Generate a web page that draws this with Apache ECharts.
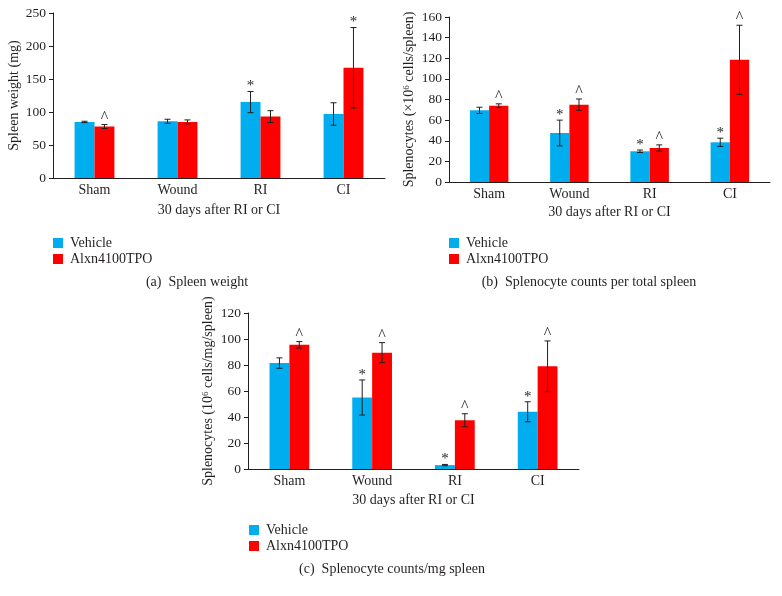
<!DOCTYPE html>
<html><head><meta charset="utf-8">
<script src="https://cdn.jsdelivr.net/npm/echarts@6/dist/echarts.min.js"></script>
<style>html,body{margin:0;padding:0;background:#fff}#c{width:782px;height:596px}</style>
</head><body><div id="c"></div>
<script>
// ---- data ----
const categories = ['Sham', 'Wound', 'RI', 'CI'];
const seriesNames = ['Vehicle', 'Alxn4100TPO'];
const xAxisTitle = '30 days after RI or CI';

// (a) Spleen weight (mg)
const weightVehicle = [85, 86, 115, 97];
const weightVehicleErr = [1, 3, 16, 17];
const weightTPO = [78, 85, 93, 167];
const weightTPOErr = [3, 3, 9, 61];
const weightVehicleMark = ['', '', '*', ''];
const weightTPOMark = ['^', '', '', '*'];
const weightTicks = [0, 250, 50];

// (b) Splenocytes per total spleen (x10^6)
const totalVehicle = [69.5, 47.5, 29.8, 38.5];
const totalVehicleErr = [3, 12.5, 1.2, 4];
const totalTPO = [74, 75, 33, 118.5];
const totalTPOErr = [1.8, 5.5, 3, 33.5];
const totalVehicleMark = ['', '*', '*', '*'];
const totalTPOMark = ['^', '^', '^', '^'];
const totalTicks = [0, 160, 20];

// (c) Splenocytes per mg spleen (10^6)
const perMgVehicle = [81.5, 55, 3, 44];
const perMgVehicleErr = [4, 13.5, 0.5, 7.7];
const perMgTPO = [95.5, 89.5, 37.5, 79];
const perMgTPOErr = [2.5, 7.7, 5, 19.5];
const perMgVehicleMark = ['', '*', '*', '*'];
const perMgTPOMark = ['^', '^', '^', '^'];
const perMgTicks = [0, 120, 20];

const captions = ['(a)  Spleen weight', '(b)  Splenocyte counts per total spleen', '(c)  Splenocyte counts/mg spleen'];
const yTitles = ['Spleen weight (mg)', 'Splenocytes (×10{sup|6} cells/spleen)', 'Splenocytes (10{sup|6} cells/mg/spleen)'];

// ---- styles / layout ----
const FONT = '"Liberation Serif", "DejaVu Serif", serif';
const INK = '#231f20';
const BLUE = '#00aeef';
const RED = '#ff0000';
const BAR_FRAC = 0.24;

const panels = [
  { grid: {left: 53, top: 13, width: 332, height: 165}, ticks: weightTicks, nameGap: 25,
    v: weightVehicle, ve: weightVehicleErr, vm: weightVehicleMark,
    t: weightTPO, te: weightTPOErr, tm: weightTPOMark,
    legend: {left: 53, top: 236}, caption: [197, 282] },
  { grid: {left: 449, top: 17, width: 321, height: 165}, ticks: totalTicks, nameGap: 23,
    v: totalVehicle, ve: totalVehicleErr, vm: totalVehicleMark,
    t: totalTPO, te: totalTPOErr, tm: totalTPOMark,
    legend: {left: 449, top: 236}, caption: [589, 282] },
  { grid: {left: 248, top: 313, width: 331, height: 156}, ticks: perMgTicks, nameGap: 24,
    v: perMgVehicle, ve: perMgVehicleErr, vm: perMgVehicleMark,
    t: perMgTPO, te: perMgTPOErr, tm: perMgTPOMark,
    legend: {left: 249, top: 523}, caption: [392, 569] }
];

function errRender(markArr, side) {
  return function (params, api) {
    const i = api.value(0), m = api.value(1), e = api.value(2);
    const band = api.size([1, 0])[0];
    const off = side * band * BAR_FRAC / 2;
    const top = api.coord([i, m + e]);
    const bot = api.coord([i, m - e]);
    const x = top[0] + off;
    const cap = 3;
    const ls = {stroke: INK, lineWidth: 1};
    const children = [
      {type: 'line', shape: {x1: x, y1: top[1], x2: x, y2: bot[1]}, style: ls},
      {type: 'line', shape: {x1: x - cap, y1: top[1], x2: x + cap, y2: top[1]}, style: ls},
      {type: 'line', shape: {x1: x - cap, y1: bot[1], x2: x + cap, y2: bot[1]}, style: ls}
    ];
    const mk = markArr[params.dataIndex];
    if (mk) {
      const caret = mk === '^';
      children.push({type: 'text', style: {text: mk, x: x, y: top[1] - (caret ? 7 : 5),
        align: 'center', verticalAlign: 'middle', font: (caret ? '16px ' : '15px ') + FONT, fill: INK}});
    }
    return {type: 'group', children: children};
  };
}

const option = {
  backgroundColor: '#fff',
  animation: false,
  grid: [], xAxis: [], yAxis: [], series: [], legend: [], graphic: []
};

panels.forEach((p, k) => {
  option.grid.push(Object.assign({containLabel: false}, p.grid));
  option.xAxis.push({
    type: 'category', gridIndex: k, data: categories,
    name: xAxisTitle, nameLocation: 'middle', nameGap: p.nameGap,
    nameTextStyle: {fontFamily: FONT, fontSize: 14, color: INK},
    axisLine: {lineStyle: {color: INK, width: 1}},
    axisTick: {inside: true, length: 4, lineStyle: {color: INK}},
    axisLabel: {fontFamily: FONT, fontSize: 14, color: INK, margin: 5}
  });
  option.yAxis.push({
    type: 'value', gridIndex: k, min: p.ticks[0], max: p.ticks[1], interval: p.ticks[2],
    name: yTitles[k], nameLocation: 'middle', nameGap: 32, nameRotate: 90,
    nameTextStyle: {fontFamily: FONT, fontSize: 14, color: INK,
      rich: {sup: {fontFamily: FONT, fontSize: 9, color: INK, verticalAlign: 'top', padding: [0, 0, 6, 0]}}},
    axisLine: {show: true, lineStyle: {color: INK, width: 1}},
    axisTick: {show: true, length: 4, lineStyle: {color: INK}},
    axisLabel: {fontFamily: FONT, fontSize: 13.5, color: INK, margin: 7},
    splitLine: {show: false}
  });
  option.series.push(
    {type: 'bar', name: seriesNames[0], xAxisIndex: k, yAxisIndex: k, data: p.v,
      barWidth: (BAR_FRAC * 100) + '%', barGap: '0%', itemStyle: {color: BLUE}, silent: true},
    {type: 'bar', name: seriesNames[1], xAxisIndex: k, yAxisIndex: k, data: p.t,
      barWidth: (BAR_FRAC * 100) + '%', barGap: '0%', itemStyle: {color: RED}, silent: true},
    {type: 'custom', xAxisIndex: k, yAxisIndex: k, silent: true, z: 5,
      data: p.v.map((val, i) => [i, val, p.ve[i]]), renderItem: errRender(p.vm, -1)},
    {type: 'custom', xAxisIndex: k, yAxisIndex: k, silent: true, z: 5,
      data: p.t.map((val, i) => [i, val, p.te[i]]), renderItem: errRender(p.tm, 1)}
  );
  option.legend.push({
    data: seriesNames, orient: 'vertical', left: p.legend.left, top: p.legend.top,
    padding: 0, itemGap: 2, itemWidth: 10, itemHeight: 10, icon: 'rect',
    selectedMode: false,
    textStyle: {fontFamily: FONT, fontSize: 14, color: INK, padding: [0, 0, 0, 2]}
  });
  option.graphic.push({
    type: 'text', x: p.caption[0], y: p.caption[1], silent: true,
    style: {text: captions[k], align: 'center', verticalAlign: 'middle',
      font: '14px ' + FONT, fill: INK}
  });
});

const chart = echarts.init(document.getElementById('c'), null, {renderer: 'canvas'});
chart.setOption(option);
</script>
</body></html>
